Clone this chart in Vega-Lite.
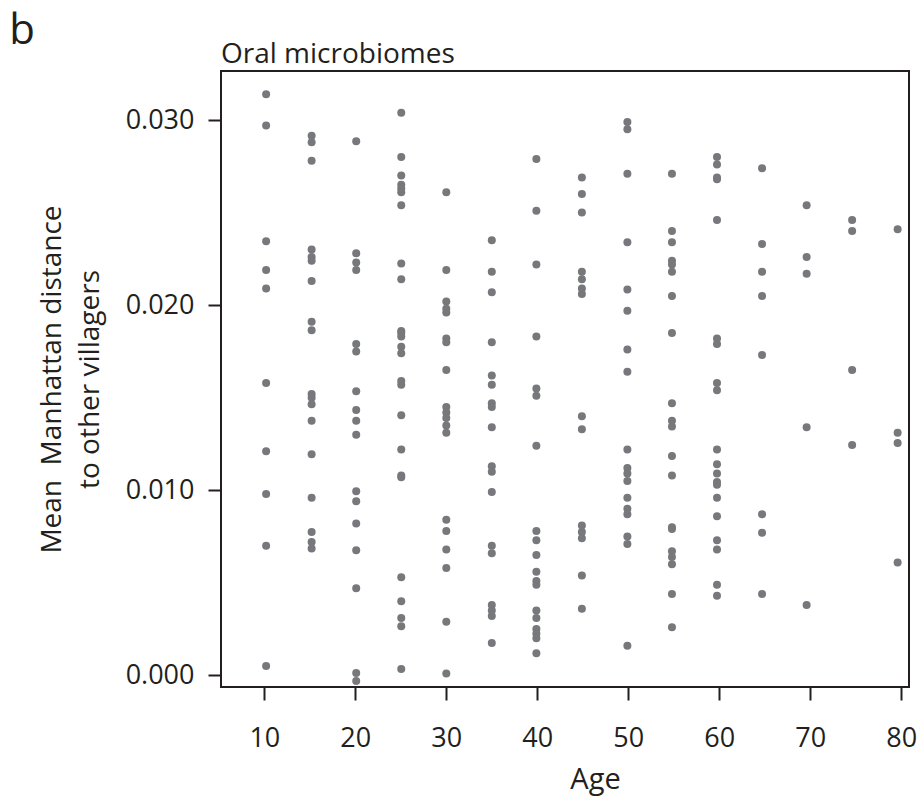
{
  "$schema": "https://vega.github.io/schema/vega-lite/v6.json",
  "background": "white",
  "padding": {"left": 9, "top": 10, "right": 8, "bottom": 2},
  "title": {"text": "b", "anchor": "start", "frame": "bounds", "fontSize": 42, "font": "Open Sans", "fontWeight": "normal", "color": "#231f20", "offset": -13, "dx": -28},
  "config": {
    "view": {"stroke": "#231f20", "strokeWidth": 2},
    "concat": {"spacing": 0},
    "axis": {"domain": false, "grid": false, "tickColor": "#231f20", "tickWidth": 2, "tickSize": 13, "labelFont": "Open Sans", "labelFontSize": 27, "labelColor": "#231f20", "titleFont": "Open Sans", "titleFontSize": 28, "titleFontWeight": "normal", "titleColor": "#231f20"}
  },
  "vconcat": [
    {
      "width": 688,
      "height": 616,
      "title": {"text": "Oral microbiomes", "anchor": "start", "frame": "group", "fontSize": 28, "font": "Open Sans", "fontWeight": "normal", "color": "#231f20", "offset": 2},
      "data": {"values": [
        {"age":10.2,"distance":0.0314},{"age":10.2,"distance":0.0297},{"age":10.2,"distance":0.02345},{"age":10.2,"distance":0.0219},{"age":10.2,"distance":0.0209},{"age":10.2,"distance":0.0158},{"age":10.2,"distance":0.0121},{"age":10.2,"distance":0.0098},{"age":10.2,"distance":0.0070},{"age":10.2,"distance":0.0005},
        {"age":15.2,"distance":0.02915},{"age":15.2,"distance":0.0288},{"age":15.2,"distance":0.0278},{"age":15.2,"distance":0.0230},{"age":15.2,"distance":0.0226},{"age":15.2,"distance":0.0224},{"age":15.2,"distance":0.0213},{"age":15.2,"distance":0.0191},{"age":15.2,"distance":0.01865},{"age":15.2,"distance":0.0152},{"age":15.2,"distance":0.0150},{"age":15.2,"distance":0.01465},{"age":15.2,"distance":0.01375},{"age":15.2,"distance":0.01195},{"age":15.2,"distance":0.0096},{"age":15.2,"distance":0.00775},{"age":15.2,"distance":0.0072},{"age":15.2,"distance":0.00685},
        {"age":20.1,"distance":0.02886},{"age":20.1,"distance":0.0228},{"age":20.1,"distance":0.0223},{"age":20.1,"distance":0.0219},{"age":20.1,"distance":0.0179},{"age":20.1,"distance":0.0175},{"age":20.1,"distance":0.01535},{"age":20.1,"distance":0.01434},{"age":20.1,"distance":0.01375},{"age":20.1,"distance":0.0130},{"age":20.1,"distance":0.00995},{"age":20.1,"distance":0.0094},{"age":20.1,"distance":0.0082},{"age":20.1,"distance":0.00676},{"age":20.1,"distance":0.0047},{"age":20.1,"distance":0.00012},{"age":20.1,"distance":-0.0003},
        {"age":25.05,"distance":0.0304},{"age":25.05,"distance":0.0280},{"age":25.05,"distance":0.0270},{"age":25.05,"distance":0.0265},{"age":25.05,"distance":0.0263},{"age":25.05,"distance":0.0261},{"age":25.05,"distance":0.0254},{"age":25.05,"distance":0.02225},{"age":25.05,"distance":0.0214},{"age":25.05,"distance":0.0186},{"age":25.05,"distance":0.0185},{"age":25.05,"distance":0.0183},{"age":25.05,"distance":0.01775},{"age":25.05,"distance":0.0174},{"age":25.05,"distance":0.0159},{"age":25.05,"distance":0.0157},{"age":25.05,"distance":0.01405},{"age":25.05,"distance":0.0122},{"age":25.05,"distance":0.0108},{"age":25.05,"distance":0.0107},{"age":25.05,"distance":0.0053},{"age":25.05,"distance":0.0040},{"age":25.05,"distance":0.0031},{"age":25.05,"distance":0.00265},{"age":25.05,"distance":0.00034},
        {"age":30,"distance":0.0261},{"age":30,"distance":0.0219},{"age":30,"distance":0.0202},{"age":30,"distance":0.0198},{"age":30,"distance":0.0196},{"age":30,"distance":0.0182},{"age":30,"distance":0.0180},{"age":30,"distance":0.0165},{"age":30,"distance":0.0145},{"age":30,"distance":0.0142},{"age":30,"distance":0.0139},{"age":30,"distance":0.0135},{"age":30,"distance":0.0131},{"age":30,"distance":0.0084},{"age":30,"distance":0.0078},{"age":30,"distance":0.0068},{"age":30,"distance":0.0058},{"age":30,"distance":0.0029},{"age":30,"distance":0.0001},
        {"age":35,"distance":0.0235},{"age":35,"distance":0.0218},{"age":35,"distance":0.0207},{"age":35,"distance":0.0180},{"age":35,"distance":0.0162},{"age":35,"distance":0.0157},{"age":35,"distance":0.0147},{"age":35,"distance":0.0145},{"age":35,"distance":0.0134},{"age":35,"distance":0.0113},{"age":35,"distance":0.0110},{"age":35,"distance":0.0099},{"age":35,"distance":0.0070},{"age":35,"distance":0.0066},{"age":35,"distance":0.0038},{"age":35,"distance":0.0035},{"age":35,"distance":0.0032},{"age":35,"distance":0.00175},
        {"age":39.9,"distance":0.0279},{"age":39.9,"distance":0.0251},{"age":39.9,"distance":0.0222},{"age":39.9,"distance":0.0183},{"age":39.9,"distance":0.0155},{"age":39.9,"distance":0.0151},{"age":39.9,"distance":0.0124},{"age":39.9,"distance":0.0078},{"age":39.9,"distance":0.0073},{"age":39.9,"distance":0.0065},{"age":39.9,"distance":0.0056},{"age":39.9,"distance":0.0051},{"age":39.9,"distance":0.0049},{"age":39.9,"distance":0.0035},{"age":39.9,"distance":0.0031},{"age":39.9,"distance":0.0025},{"age":39.9,"distance":0.00225},{"age":39.9,"distance":0.0020},{"age":39.9,"distance":0.0012},
        {"age":44.9,"distance":0.0269},{"age":44.9,"distance":0.0260},{"age":44.9,"distance":0.0250},{"age":44.9,"distance":0.0218},{"age":44.9,"distance":0.0214},{"age":44.9,"distance":0.0209},{"age":44.9,"distance":0.0206},{"age":44.9,"distance":0.0140},{"age":44.9,"distance":0.0133},{"age":44.9,"distance":0.0081},{"age":44.9,"distance":0.00775},{"age":44.9,"distance":0.0074},{"age":44.9,"distance":0.0054},{"age":44.9,"distance":0.0036},
        {"age":49.9,"distance":0.0299},{"age":49.9,"distance":0.0295},{"age":49.9,"distance":0.0271},{"age":49.9,"distance":0.0234},{"age":49.9,"distance":0.02085},{"age":49.9,"distance":0.0197},{"age":49.9,"distance":0.0176},{"age":49.9,"distance":0.0164},{"age":49.9,"distance":0.0122},{"age":49.9,"distance":0.0112},{"age":49.9,"distance":0.0109},{"age":49.9,"distance":0.0105},{"age":49.9,"distance":0.0096},{"age":49.9,"distance":0.0090},{"age":49.9,"distance":0.0087},{"age":49.9,"distance":0.0075},{"age":49.9,"distance":0.0071},{"age":49.9,"distance":0.0016},
        {"age":54.8,"distance":0.0271},{"age":54.8,"distance":0.0240},{"age":54.8,"distance":0.0234},{"age":54.8,"distance":0.0224},{"age":54.8,"distance":0.0222},{"age":54.8,"distance":0.0218},{"age":54.8,"distance":0.0205},{"age":54.8,"distance":0.0185},{"age":54.8,"distance":0.0147},{"age":54.8,"distance":0.01375},{"age":54.8,"distance":0.01345},{"age":54.8,"distance":0.01185},{"age":54.8,"distance":0.0108},{"age":54.8,"distance":0.0080},{"age":54.8,"distance":0.0079},{"age":54.8,"distance":0.0067},{"age":54.8,"distance":0.0064},{"age":54.8,"distance":0.0060},{"age":54.8,"distance":0.0044},{"age":54.8,"distance":0.0026},
        {"age":59.75,"distance":0.0280},{"age":59.75,"distance":0.0276},{"age":59.75,"distance":0.0269},{"age":59.75,"distance":0.0268},{"age":59.75,"distance":0.0246},{"age":59.75,"distance":0.0182},{"age":59.75,"distance":0.0179},{"age":59.75,"distance":0.0158},{"age":59.75,"distance":0.0154},{"age":59.75,"distance":0.0122},{"age":59.75,"distance":0.0114},{"age":59.75,"distance":0.0109},{"age":59.75,"distance":0.01045},{"age":59.75,"distance":0.0103},{"age":59.75,"distance":0.0096},{"age":59.75,"distance":0.0086},{"age":59.75,"distance":0.0073},{"age":59.75,"distance":0.0068},{"age":59.75,"distance":0.0049},{"age":59.75,"distance":0.0043},
        {"age":64.7,"distance":0.0274},{"age":64.7,"distance":0.0233},{"age":64.7,"distance":0.0218},{"age":64.7,"distance":0.0205},{"age":64.7,"distance":0.0173},{"age":64.7,"distance":0.0087},{"age":64.7,"distance":0.0077},{"age":64.7,"distance":0.0044},
        {"age":69.6,"distance":0.0254},{"age":69.6,"distance":0.0226},{"age":69.6,"distance":0.0217},{"age":69.6,"distance":0.0134},{"age":69.6,"distance":0.0038},
        {"age":74.6,"distance":0.0246},{"age":74.6,"distance":0.0240},{"age":74.6,"distance":0.0165},{"age":74.6,"distance":0.01245},
        {"age":79.6,"distance":0.0241},{"age":79.6,"distance":0.0131},{"age":79.6,"distance":0.01255},{"age":79.6,"distance":0.0061}
      ]},
      "mark": {"type": "circle", "size": 64, "color": "#77787b", "opacity": 1},
      "encoding": {
        "x": {"field": "age", "type": "quantitative", "title": "Age",
          "scale": {"domain": [5.24, 80.85], "nice": false, "zero": false},
          "axis": {"values": [10, 20, 30, 40, 50, 60, 70, 80], "labelPadding": 25, "titlePadding": 14, "titleX": 374, "titleFontSize": 29}},
        "y": {"field": "distance", "type": "quantitative", "title": ["Mean \u00a0Manhattan distance", "to other villagers"],
          "scale": {"domain": [-0.00063, 0.03265], "nice": false, "zero": false},
          "axis": {"values": [0, 0.01, 0.02, 0.03], "format": ".3f", "labelPadding": 14, "titlePadding": 21, "titleLineHeight": 38}}
      }
    }
  ]
}
